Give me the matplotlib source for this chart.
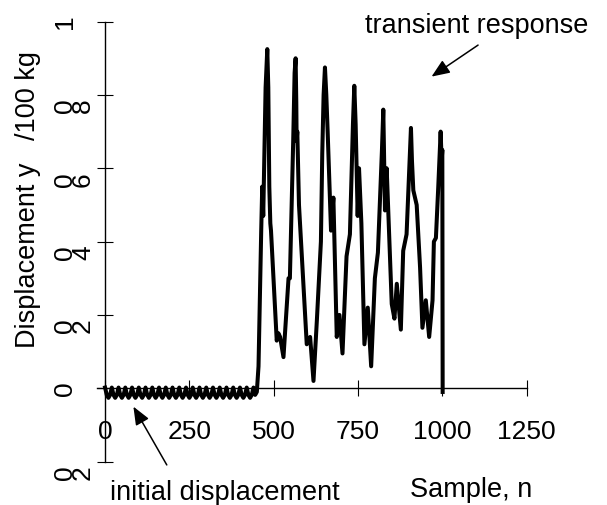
import matplotlib.pyplot as plt
from matplotlib.transforms import ScaledTranslation

plt.rcParams['font.family'] = ['Liberation Sans', 'DejaVu Sans']

# === DATA ===
# small oscillation before the load arrives, one point every 5 samples
init_n = [0, 5, 10, 15, 20, 25, 30, 35, 40, 45, 50, 55, 60, 65, 70, 75,
          80, 85, 90, 95, 100, 105, 110, 115, 120, 125, 130, 135, 140, 145,
          150, 155, 160, 165, 170, 175, 180, 185, 190, 195, 200, 205, 210,
          215, 220, 225, 230, 235, 240, 245, 250, 255, 260, 265, 270, 275,
          280, 285, 290, 295, 300, 305, 310, 315, 320, 325, 330, 335, 340,
          345, 350, 355, 360, 365, 370, 375, 380, 385, 390, 395, 400, 405,
          410, 415, 420, 425, 430, 435, 440, 445]
init_y = [0.002, -0.018, -0.026, -0.018, 0.002, -0.018, -0.026, -0.018,
          0.002, -0.018, -0.026, -0.018, 0.002, -0.018, -0.026, -0.018,
          0.002, -0.018, -0.026, -0.018, 0.002, -0.018, -0.026, -0.018,
          0.002, -0.018, -0.026, -0.018, 0.002, -0.018, -0.026, -0.018,
          0.002, -0.018, -0.026, -0.018, 0.002, -0.018, -0.026, -0.018,
          0.002, -0.018, -0.026, -0.018, 0.002, -0.018, -0.026, -0.018,
          0.002, -0.018, -0.026, -0.018, 0.002, -0.018, -0.026, -0.018,
          0.002, -0.018, -0.026, -0.018, 0.002, -0.018, -0.026, -0.018,
          0.002, -0.018, -0.026, -0.018, 0.002, -0.018, -0.026, -0.018,
          0.002, -0.018, -0.026, -0.018, 0.002, -0.018, -0.026, -0.018,
          0.002, -0.018, -0.026, -0.018, 0.002, -0.018, -0.026, -0.018,
          0.002, -0.018]

# transient part
trans_n = [450, 455, 463, 466, 469, 476, 481, 484, 487, 490, 492, 509, 514,
           519, 529, 539, 544, 548, 558, 562, 565, 567, 568, 570, 575, 588,
           598, 608, 618, 628, 640, 644, 648, 652, 656, 660, 670, 677, 687,
           695, 704, 716, 726, 735, 739, 743, 749, 753, 760, 769, 779, 789,
           800, 809, 821, 825, 830, 835, 850, 858, 865, 877, 884, 894, 903,
           907, 910, 914, 924, 934, 941, 951, 961, 971, 975, 981, 988, 995,
           998, 1000, 1001]
trans_y = [-0.01, 0.06, 0.43, 0.55, 0.47, 0.82, 0.925, 0.82, 0.55, 0.45, 0.43,
           0.13, 0.15, 0.14, 0.085, 0.23, 0.30, 0.30, 0.68, 0.86, 0.90, 0.78,
           0.675, 0.70, 0.50, 0.285, 0.12, 0.14, 0.02, 0.185, 0.40, 0.64, 0.80,
           0.875, 0.80, 0.70, 0.43, 0.52, 0.14, 0.20, 0.095, 0.36, 0.42, 0.72,
           0.825, 0.72, 0.47, 0.60, 0.45, 0.12, 0.22, 0.06, 0.30, 0.37, 0.65,
           0.76, 0.485, 0.60, 0.23, 0.19, 0.285, 0.16, 0.375, 0.42, 0.62, 0.71,
           0.62, 0.54, 0.50, 0.33, 0.165, 0.24, 0.14, 0.24, 0.40, 0.41, 0.55,
           0.70, 0.62, 0.65, -0.01]

x_ticks = [0, 250, 500, 750, 1000, 1250]
x_labels = ["0", "250", "500", "750", "1000", "1250"]
y_ticks = [-0.2, 0, 0.2, 0.4, 0.6, 0.8, 1]
y_labels = ["0\n2", "0\n", "0\n2", "0\n4", "0\n6", "0\n8", "1\n"]

# === PLOT ===
fig = plt.figure(figsize=(6.07, 5.05), dpi=100)
ax = fig.add_axes([0.1592, 0.0859, 0.7084, 0.8713])

ax.plot(init_n + trans_n, init_y + trans_y, color='black', lw=2.9,
        solid_joinstyle='round')

ax.set_xlim(-25, 1250)
ax.set_ylim(-0.2, 1)
for s in ['top', 'right']:
    ax.spines[s].set_visible(False)
ax.spines['left'].set_position(('data', 0))
ax.spines['bottom'].set_position(('data', 0))
for s in ['left', 'bottom']:
    ax.spines[s].set_linewidth(1.0)

ax.set_xticks(x_ticks, x_labels)
ax.set_yticks(y_ticks, y_labels)
ax.tick_params(direction='inout', length=11.5, width=0.8, labelsize=19)
ax.tick_params(axis='x', pad=17)
ax.tick_params(axis='y', pad=1.5)

for lab in ax.get_yticklabels():
    lab.set_rotation(90)
    lab.set_va('center')
    lab.set_linespacing(0.7)
    if lab.get_text().strip() not in ('0', '1'):
        lab.set_transform(lab.get_transform() +
                          ScaledTranslation(0, -8 / 72, fig.dpi_scale_trans))

ax.set_ylabel("Displacement y   /100 kg", fontsize=19.5)
ax.yaxis.set_label_coords(-0.129, 0.595)

# annotations
ax.text(771, 0.969, "transient response", fontsize=19.5, ha='left', va='baseline')
ax.annotate("", xy=(968, 0.85), xytext=(1106, 0.936),
            arrowprops=dict(arrowstyle='-|>,head_length=1.1,head_width=0.45',
                            mutation_scale=10, lw=1.1, color='black',
                            shrinkA=0, shrinkB=0))
ax.text(15, -0.305, "initial displacement", fontsize=19.5, ha='left',
        va='baseline', clip_on=False)
ax.annotate("", xy=(84, -0.05), xytext=(183, -0.209),
            arrowprops=dict(arrowstyle='-|>,head_length=1.1,head_width=0.45',
                            mutation_scale=10, lw=1.1, color='black',
                            shrinkA=0, shrinkB=0), annotation_clip=False)
ax.text(904, -0.296, "Sample, n", fontsize=19.5, ha='left', va='baseline',
        clip_on=False)

fig.savefig("out.png", dpi=100)
